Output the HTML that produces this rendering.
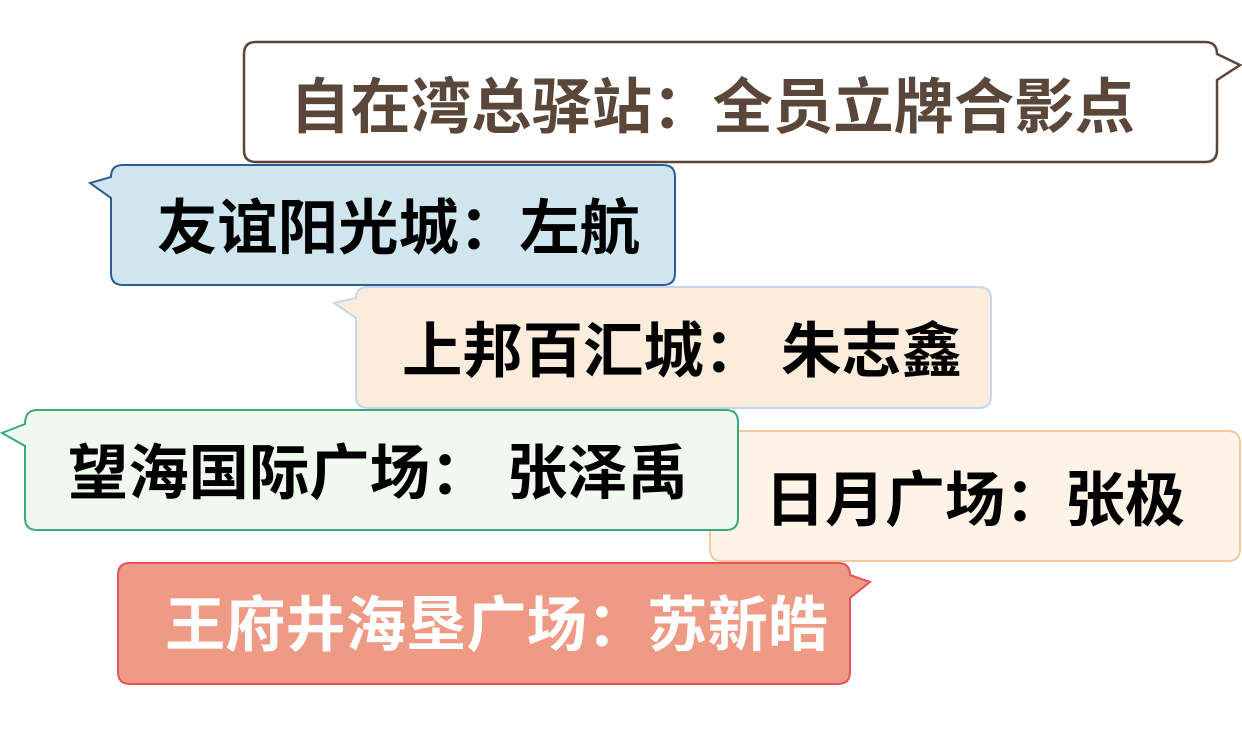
<!DOCTYPE html>
<html><head><meta charset="utf-8"><style>
html,body{margin:0;padding:0;background:#fff;width:1242px;height:737px;overflow:hidden}
text{font-family:"Liberation Sans","Noto Sans CJK SC",sans-serif;font-weight:bold;font-size:60px}
</style></head><body>
<svg width="1242" height="737" xmlns="http://www.w3.org/2000/svg">
<path d="M256,42 H1205 Q1217,42 1217,54 L1240,65 L1217,80 V150 Q1217,162 1205,162 H256 Q244,162 244,150 V54 Q244,42 256,42Z" fill="#fff" stroke="#5b463a" stroke-width="2.5"/>
<text x="290" y="128" fill="#5b463a" textLength="845" lengthAdjust="spacingAndGlyphs">自在湾总驿站：全员立牌合影点</text>

<path d="M123,165 H663 Q675,165 675,177 V273 Q675,285 663,285 H123 Q111,285 111,273 V198 L90,183 L111,177 Q111,165 123,165Z" fill="#cfe6ef" stroke="#2e5b93" stroke-width="2"/>
<text x="157" y="249" fill="#000" textLength="483" lengthAdjust="spacingAndGlyphs">友谊阳光城：左航</text>

<path d="M368,287 H979 Q991,287 991,299 V396 Q991,408 979,408 H368 Q356,408 356,396 V318 L334,303 L356,298 Q356,287 368,287Z" fill="#fbecdc" stroke="#c9d5ee" stroke-width="2"/>
<text x="402" y="372" fill="#000" textLength="560" lengthAdjust="spacingAndGlyphs">上邦百汇城： 朱志鑫</text>

<path d="M722,431 H1228 Q1240,431 1240,443 V549 Q1240,561 1228,561 H722 Q710,561 710,549 V443 Q710,431 722,431Z" fill="#fdf3e7" stroke="#f5c99a" stroke-width="2"/>
<text x="765" y="521" fill="#000" textLength="420" lengthAdjust="spacingAndGlyphs">日月广场：张极</text>

<path d="M37,410 H726 Q738,410 738,422 V518 Q738,530 726,530 H37 Q25,530 25,518 V446 L2,433 L25,424 Q25,410 37,410Z" fill="#f1f8f0" stroke="#3aaa7a" stroke-width="2"/>
<text x="68" y="494" fill="#000" textLength="620" lengthAdjust="spacingAndGlyphs">望海国际广场： 张泽禹</text>

<path d="M130,563 H838 Q850,563 850,575 L870,582 L850,598 V672 Q850,684 838,684 H130 Q118,684 118,672 V575 Q118,563 130,563Z" fill="#ef9a85" stroke="#e5535a" stroke-width="2"/>
<text x="165" y="646" fill="#fff" textLength="663" lengthAdjust="spacingAndGlyphs">王府井海垦广场：苏新皓</text>
</svg>
</body></html>
